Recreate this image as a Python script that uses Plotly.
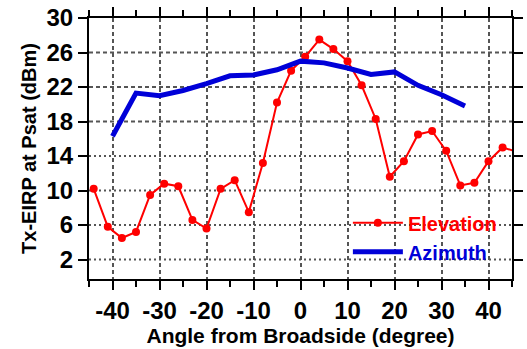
import plotly.graph_objects as go

# Elevation cut
elev_angle = [-44, -41, -38, -35, -32, -29, -26, -23, -20, -17, -14, -11, -8, -5, -2,
              1, 4, 7, 10, 13, 16, 19, 22, 25, 28, 31, 34, 37, 40, 43, 46]
elev_eirp = [10.2, 5.8, 4.5, 5.2, 9.5, 10.8, 10.5, 6.6, 5.6, 10.2, 11.2, 7.5, 13.2, 20.2, 23.9,
             25.5, 27.5, 26.4, 25.0, 22.2, 18.3, 11.6, 13.4, 16.5, 16.9, 14.6, 10.6, 10.9, 13.4, 15.0, 14.5]

# Azimuth cut
az_angle = [-40, -35, -30, -25, -20, -15, -10, -5, 0, 5, 10, 15, 20, 25, 30, 35]
az_eirp = [16.3, 21.3, 21.0, 21.6, 22.4, 23.3, 23.4, 24.0, 25.0, 24.8, 24.2, 23.45, 23.75, 22.2, 21.1, 19.8]

x_ticks = [-40, -30, -20, -10, 0, 10, 20, 30, 40]
x_tick_text = ["-40", "-30", "-20", "-10", "0", "10", "20", "30", "40"]
y_ticks = [2, 6, 10, 14, 18, 22, 26, 30]

FONT = "Liberation Sans, Arial, sans-serif"
RED = "#ff0000"
BLUE = "#0000d8"

fig = go.Figure()
fig.add_trace(go.Scatter(
    x=elev_angle, y=elev_eirp, mode="lines+markers",
    name=f"<span style='color:{RED}'>Elevation</span>",
    line=dict(color=RED, width=2),
    marker=dict(color=RED, size=8),
))
fig.add_trace(go.Scatter(
    x=az_angle, y=az_eirp, mode="lines",
    name=f"<span style='color:{BLUE}'>Azimuth</span>",
    line=dict(color=BLUE, width=5),
))

axis_common = dict(
    showline=True, linecolor="black", linewidth=2, mirror="ticks",
    ticks="outside", tickcolor="black", tickwidth=2, ticklen=9,
    zeroline=False,
    tickfont=dict(family=FONT, size=24, color="black", weight="bold"),
)

fig.update_xaxes(
    **axis_common,
    showgrid=True, gridcolor="#555555", gridwidth=2, griddash="4px,3px",
    range=[-45, 45], tickvals=x_ticks, ticktext=x_tick_text,
    minor=dict(dtick=5, tick0=0, ticks="outside", ticklen=6, tickwidth=2,
               tickcolor="black"),
    title=dict(text="Angle from Broadside (degree)",
               font=dict(family=FONT, size=21, color="black", weight="bold"),
               standoff=6),
)
fig.update_yaxes(
    **axis_common,
    showgrid=False,
    range=[-0.25, 30], tickvals=y_ticks,
    title=dict(text="Tx-EIRP at Psat (dBm)",
               font=dict(family=FONT, size=20, color="black", weight="bold"),
               standoff=4),
)

# horizontal grid lines at the y tick values, spanning the x-axis domain
for yv in y_ticks[:-1]:
    fig.add_shape(type="line", xref="x domain", yref="y", x0=0, x1=1, y0=yv, y1=yv,
                  line=dict(color="#555555", width=2,
                            dash="2px,3px" if yv < 16 else "4px,3px"),
                  layer="below")

fig.update_layout(
    width=527, height=349,
    margin=dict(l=89, r=4, t=12, b=70),
    paper_bgcolor="white", plot_bgcolor="white",
    showlegend=True,
    legend=dict(x=0.612, y=0.29, xanchor="left", yanchor="top",
                bgcolor="rgba(0,0,0,0)", itemwidth=50,
                font=dict(family=FONT, size=20, weight="bold"),
                tracegroupgap=0),
)

fig.write_html("out.html")
